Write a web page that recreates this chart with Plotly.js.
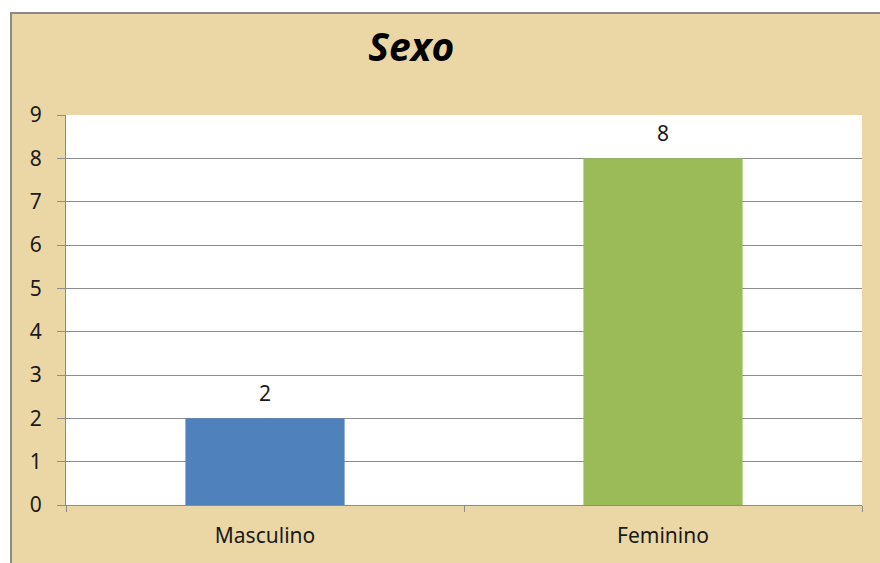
<!DOCTYPE html>
<html>
<head>
<meta charset="utf-8">
<script src="https://cdn.plot.ly/plotly-3.0.1.min.js"></script>
<style>
  html, body { margin: 0; padding: 0; background: #ffffff; width: 880px; height: 563px; overflow: hidden; }
  #chart { position: absolute; left: 10px; top: 12px; width: 870px; height: 551px;
           border-left: 2px solid #8a8a8a; border-top: 2px solid #8a8a8a; box-sizing: border-box; }
</style>
</head>
<body>
<div id="chart"></div>
<script>
const categories = ["Masculino", "Feminino"];
const values = [2, 8];
const barColors = ["#4F81BD", "#9BBB59"];
const yTicks = [0, 1, 2, 3, 4, 5, 6, 7, 8, 9];

const labelFont = { family: "Noto Sans, Open Sans, sans-serif", size: 21, color: "#1a1a1a" };

const trace = {
  type: "bar",
  x: categories,
  y: values,
  marker: { color: barColors },
  hoverinfo: "x+y"
};

const annotations = categories.map((c, i) => ({
  x: c, y: values[i], xref: "x", yref: "y",
  text: String(values[i]),
  showarrow: false,
  yanchor: "bottom",
  yshift: 9,
  font: labelFont
}));

const layout = {
  width: 868,
  height: 549,
  paper_bgcolor: "#EBD7A5",
  plot_bgcolor: "#ffffff",
  margin: { l: 54, r: 18, t: 101, b: 58 },
  bargap: 0.6,
  showlegend: false,
  annotations: annotations,
  title: {
    text: "<b><i>Sexo</i></b>",
    font: { family: "Open Sans, Noto Sans, sans-serif", size: 39, color: "#000000" },
    x: 0.46, xanchor: "center", xref: "container",
    y: 0.94, yanchor: "middle", yref: "container"
  },
  xaxis: {
    type: "category",
    showline: true, linecolor: "#8c8c8c", linewidth: 1,
    ticks: "outside", tickson: "boundaries", ticklen: 6, tickcolor: "#8c8c8c",
    ticklabelstandoff: 12,
    showgrid: false,
    tickfont: labelFont
  },
  yaxis: {
    range: [0, 9],
    tickvals: yTicks,
    ticktext: yTicks.map(String),
    showline: true, linecolor: "#8c8c8c", linewidth: 1,
    ticks: "outside", ticklen: 8, tickcolor: "#8c8c8c",
    ticklabelstandoff: 11,
    showgrid: true, gridcolor: "#8c8c8c", gridwidth: 1,
    zeroline: false,
    tickfont: labelFont
  }
};

Plotly.newPlot("chart", [trace], layout, { displayModeBar: false, staticPlot: true });
</script>
</body>
</html>
